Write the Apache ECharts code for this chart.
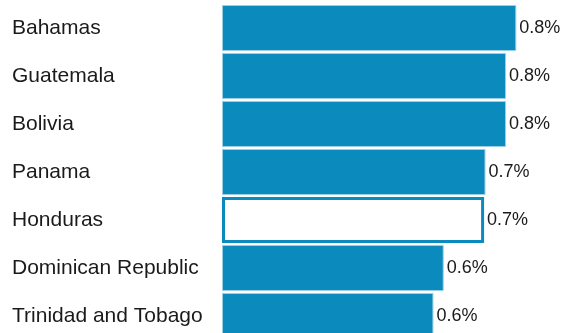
<!DOCTYPE html>
<html>
<head>
<meta charset="utf-8">
<script src="https://cdn.jsdelivr.net/npm/echarts@6/dist/echarts.min.js"></script>
<style>
html,body{margin:0;padding:0;background:#fff;}
#chart{width:564px;height:333px;}
</style>
</head>
<body>
<div id="chart"></div>
<script>
const categories = ["Bahamas", "Guatemala", "Bolivia", "Panama", "Honduras", "Dominican Republic", "Trinidad and Tobago"];
const values = [0.831, 0.802, 0.802, 0.744, 0.740, 0.626, 0.597];
const highlighted = "Honduras";

const chart = echarts.init(document.getElementById('chart'), null, {renderer: 'canvas'});
const data = values.map((v, i) => {
  const isH = categories[i] === highlighted;
  return {
    value: v,
    itemStyle: isH
      ? {color: '#ffffff', borderColor: '#0b8bbd', borderWidth: 3}
      : {color: '#0b8bbd', borderColor: '#9ad0e6', borderWidth: 1}
  };
});
chart.setOption({
  animation: false,
  grid: {left: 222, width: 340, top: 4, height: 336, containLabel: false, outerBoundsMode: 'none'},
  xAxis: {
    type: 'value', min: 0, max: 0.96,
    show: false
  },
  yAxis: {
    type: 'category', data: categories, inverse: true,
    axisLine: {show: false}, axisTick: {show: false}, splitLine: {show: false},
    axisLabel: {
      align: 'left', margin: 210, color: '#1a1a1a',
      fontFamily: 'Liberation Sans, Arial, sans-serif', fontSize: 21,
      padding: [4, 0, 0, 0]
    }
  },
  series: [{
    type: 'bar', data: data, barWidth: 46,
    label: {
      show: true, position: 'right', distance: 3, color: '#1a1a1a',
      fontFamily: 'Liberation Sans, Arial, sans-serif', fontSize: 18,
      padding: [4, 0, 0, 0],
      formatter: p => p.value.toFixed(1) + '%'
    }
  }]
});
</script>
</body>
</html>
